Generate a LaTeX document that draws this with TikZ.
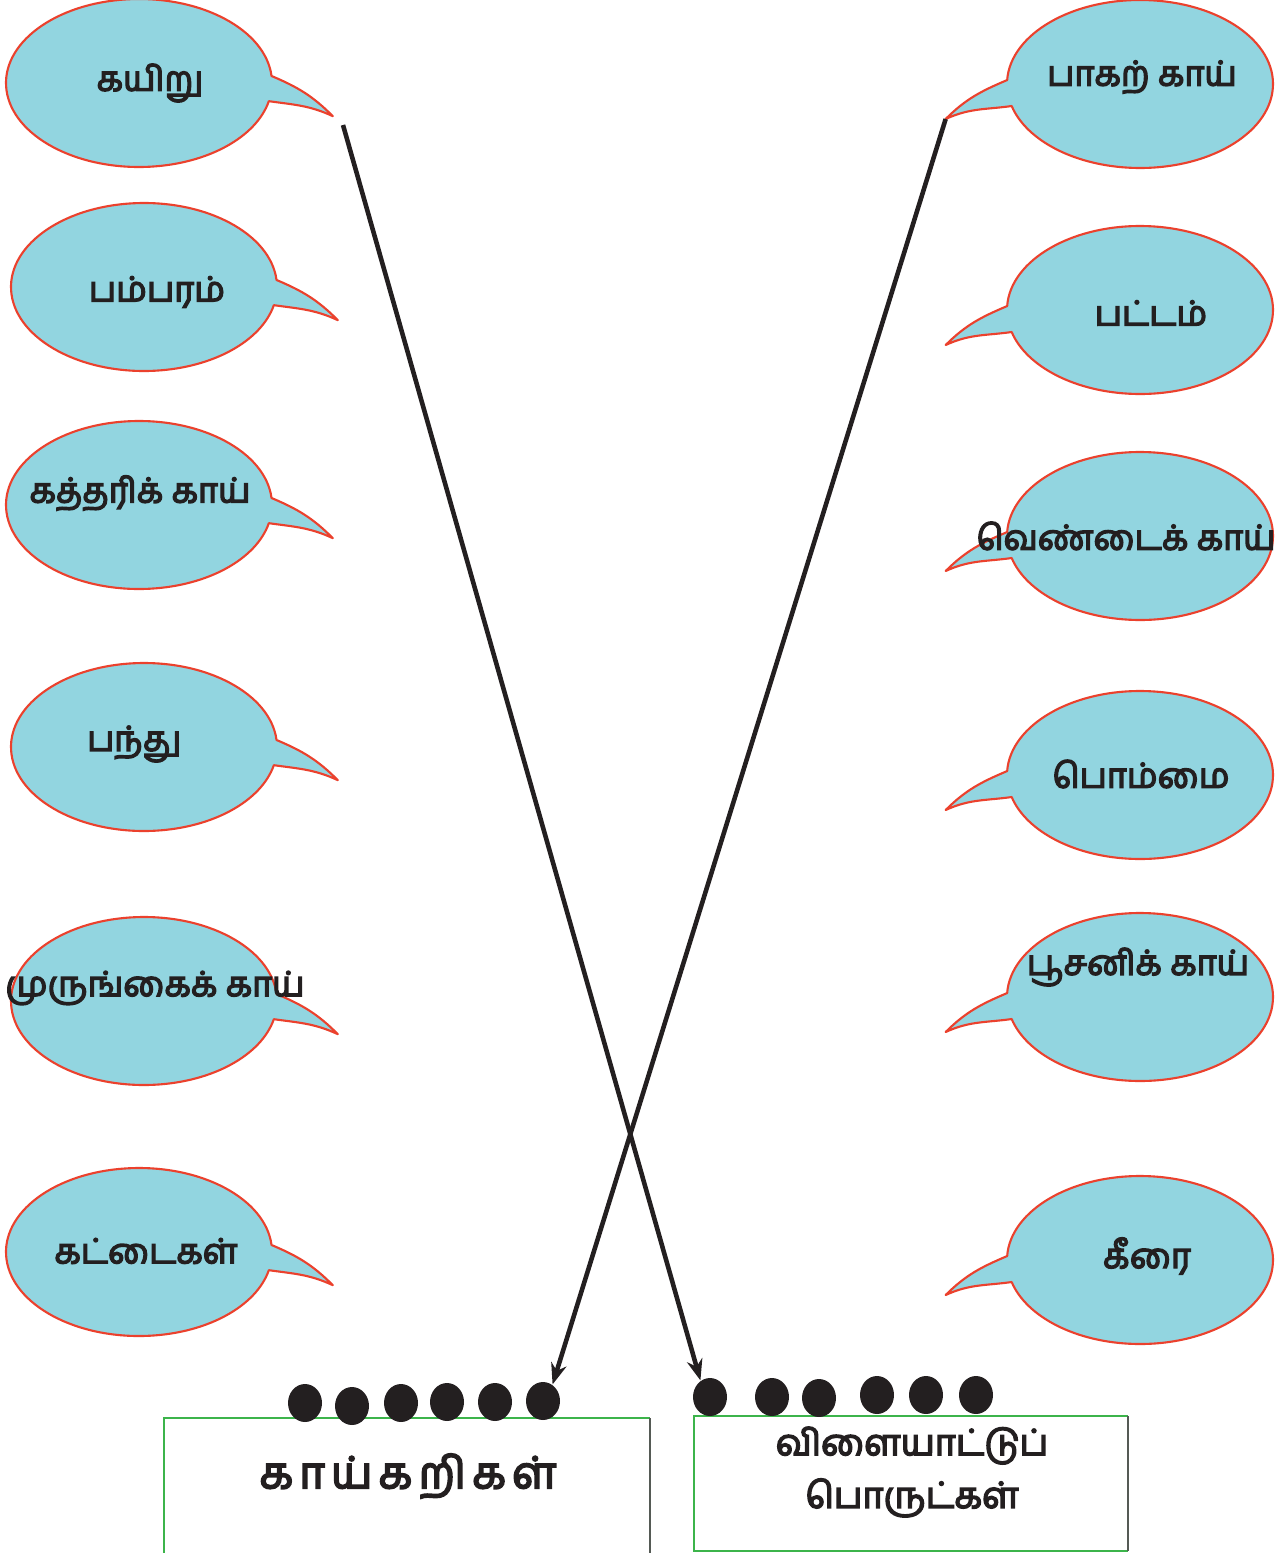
\documentclass[tikz,border=0pt]{standalone}
\usepackage{fontspec}
\newfontfamily\tamilfont[Script=Tamil,FakeBold=4]{Hind Madurai}
\usetikzlibrary{arrows.meta,shapes.geometric}

\definecolor{bubblefill}{RGB}{146,213,224}
\definecolor{bubbleline}{RGB}{235,65,45}
\definecolor{boxgreen}{RGB}{60,180,75}
\definecolor{boxgrey}{RGB}{85,90,85}
\definecolor{inkblack}{RGB}{35,31,32}

\tikzset{
    bubble/.style={fill=bubblefill,draw=bubbleline,line width=0.6pt,line join=round},
    bubbletext/.style={font=\tamilfont\fontsize{9.8}{12}\selectfont,text=inkblack,inner sep=0pt},
    boxtext/.style={font=\tamilfont\fontsize{10.3}{13}\selectfont,text=inkblack,align=center,inner sep=0pt},
    dot/.style={ellipse,fill=inkblack,inner sep=0pt,minimum width=0.34cm,minimum height=0.38cm},
    matchline/.style={draw=inkblack,line width=1.3pt,-{Stealth[length=6pt,width=4.5pt]}}
}

\begin{document}
\begin{tikzpicture}
    \useasboundingbox (0,0) rectangle (12.84,-15.53);

    % left column
    \foreach \n/\cx/\cy/\tx/\ty/\txt in {
        L1/1.39/-0.83/1.50/-0.83/கயிறு,
        L2/1.44/-2.87/1.57/-2.92/பம்பரம்,
        L3/1.39/-5.05/1.40/-4.93/கத்தரிக் காய்,
        L4/1.44/-7.47/1.34/-7.44/பந்து,
        L5/1.44/-10.01/1.55/-9.88/முருங்கைக் காய்,
        L6/1.39/-12.52/1.46/-12.51/கட்டைகள்}{
        \draw[bubble] (\cx,\cy) ++(4.8:1.33 and 0.84)
            arc[start angle=4.8,end angle=347.5,x radius=1.33,y radius=0.84]
            to[out=-8,in=155] ++(0.64,-0.15) coordinate (\n-tip)
            to[out=135,in=-23] cycle;
        \node[bubbletext] (\n) at (\tx,\ty) {\txt};
    }

    % right column
    \foreach \n/\cx/\cy/\tx/\ty/\txt in {
        R1/11.40/-0.84/11.42/-0.77/பாகற் காய்,
        R2/11.40/-3.10/11.51/-3.13/பட்டம்,
        R3/11.40/-5.36/11.26/-5.36/வெண்டைக் காய்,
        R4/11.40/-7.75/11.41/-7.74/பொம்மை,
        R5/11.40/-9.97/11.38/-9.67/பூசனிக் காய்,
        R6/11.40/-12.60/11.47/-12.56/கீரை}{
        \draw[bubble] (\cx,\cy) ++(177.3:1.33 and 0.84)
            arc[start angle=177.3,end angle=-164.8,x radius=1.33,y radius=0.84]
            to[out=-172,in=25] ++(-0.66,-0.13) coordinate (\n-tip)
            to[out=45,in=-157] cycle;
        \node[bubbletext] (\n) at (\tx,\ty) {\txt};
    }

    % boxes
    \draw[boxgreen,line width=0.8pt] (1.64,-15.70) -- (1.64,-14.18) -- (6.50,-14.18);
    \draw[boxgrey,line width=0.8pt] (6.50,-14.18) -- (6.50,-15.70);
    \draw[boxgreen,line width=0.8pt] (11.28,-14.16) -- (6.94,-14.16) -- (6.94,-15.51) -- (11.28,-15.51);
    \draw[boxgrey,line width=0.8pt] (11.28,-14.16) -- (11.28,-15.51);

    \node[boxtext,font=\tamilfont\fontsize{12.5}{15}\selectfont\addfontfeature{LetterSpace=14}]
        (veg) at (4.08,-14.76) {காய்கறிகள்};
    \node[boxtext] (toys) at (9.12,-14.72) {விளையாட்டுப்\\[2pt]பொருட்கள்};

    % dots
    \foreach \i/\x/\y in {1/3.05/-14.03,2/3.52/-14.06,3/4.01/-14.03,4/4.47/-14.02,5/4.95/-14.02,6/5.43/-14.01}
        \node[dot] (kd\i) at (\x,\y) {};
    \foreach \i/\x/\y in {1/7.10/-13.97,2/7.72/-13.97,3/8.19/-13.98,4/8.77/-13.95,5/9.26/-13.95,6/9.76/-13.95}
        \node[dot] (vd\i) at (\x,\y) {};

    % matching lines
    \coordinate (kstart) at (3.43,-1.25);
    \draw[matchline] (kstart) -- (vd1.120);
    \draw[matchline] (R1-tip) -- (kd6.60);
\end{tikzpicture}
\end{document}
